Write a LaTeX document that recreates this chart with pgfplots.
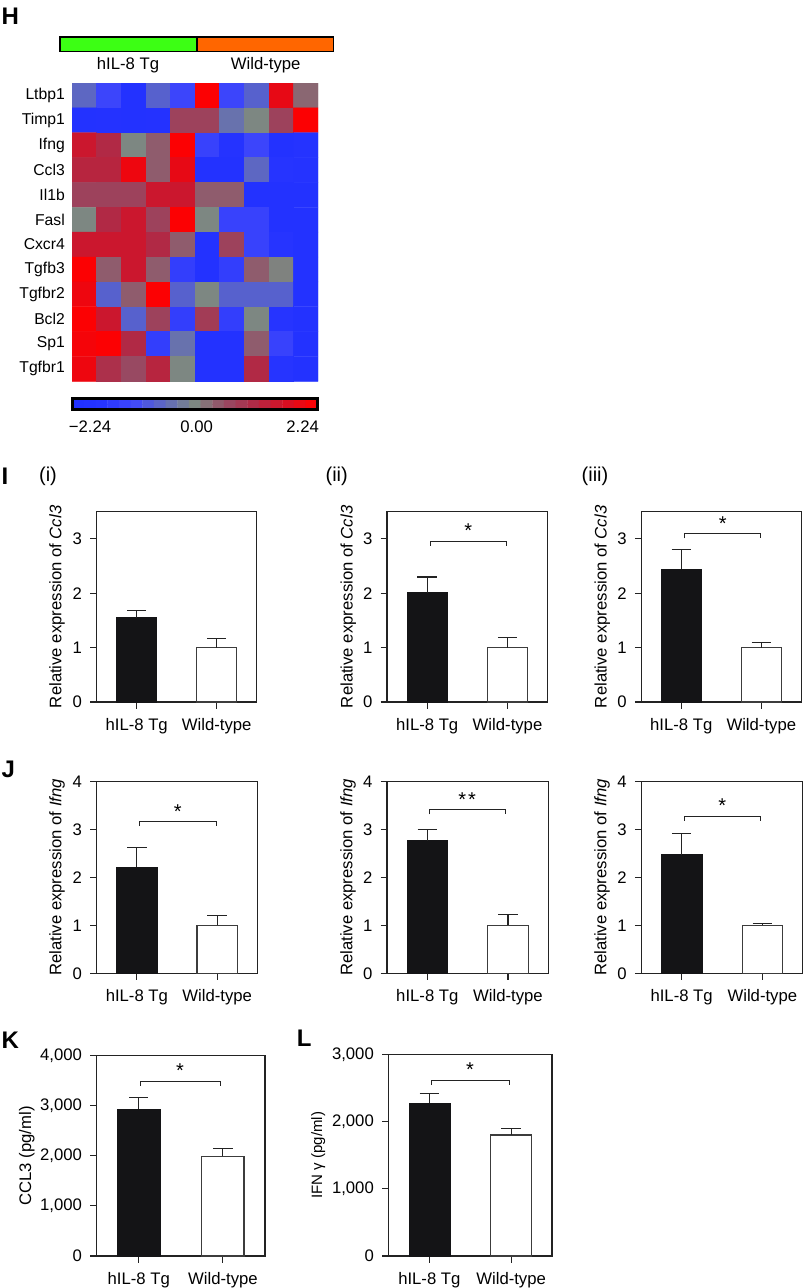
\documentclass[border=0pt]{standalone}
\usepackage{fontspec}
\usepackage{pgfplots}
\pgfplotsset{compat=1.18}
\setmainfont{Liberation Sans}
\definecolor{ink}{RGB}{35,35,35}
\definecolor{barblack}{RGB}{20,20,22}
\definecolor{barline}{RGB}{60,60,60}
\definecolor{grpgreen}{RGB}{60,255,20}
\definecolor{grporange}{RGB}{255,102,0}
\pgfplotsset{colormap={hm}{rgb255(0cm)=(32,48,255); rgb255(1cm)=(38,52,255); rgb255(2cm)=(64,72,250); rgb255(3cm)=(95,105,190); rgb255(4cm)=(125,135,130); rgb255(5cm)=(150,75,100); rgb255(6cm)=(178,40,68); rgb255(7cm)=(215,15,35); rgb255(8cm)=(255,0,0)}}
\newcommand\barpanel[9]{\def\pL{#1}\def\pR{#2}\def\pT{#3}\def\pB{#4}\def\pYmax{#5}\def\pTicks{#6}\def\pYlab{#7}\def\pLx{#8}\def\pBv{#9}\barpanelB}
\newcommand\barpanelB[3]{%
\pgfmathsetmacro\pw{\pR-\pL}\pgfmathsetmacro\ph{\pB-\pT}\pgfmathsetmacro\relx{(\pLx-\pL)/\pw}%
\begin{axis}[anchor=south west,at={(\pL pt,-\pB pt)},scale only axis,width=\pw pt,height=\ph pt,
 xmin=-0.5,xmax=1.5,ymin=0,ymax=\pYmax,xtick={0,1},xticklabels={hIL-8 Tg,Wild-type},ytick=\pTicks,
 xtick pos=bottom,ytick pos=left,tick align=outside,major tick length=6.5pt,
 axis line style={ink,line width=1.1pt},tick style={ink,line width=1.1pt},
 scaled y ticks=false,
 yticklabel style={/pgf/number format/assume math mode=true,/pgf/number format/1000 sep={,},inner sep=0pt,xshift=-8pt},
 xticklabel style={inner sep=0pt,yshift=-9.5pt,text height=12pt,text depth=3.5pt},
 every axis y label/.style={at={(axis description cs:\relx,0.5)},rotate=90,anchor=center},
 ylabel={\pYlab},
 axis on top=false]
\addplot[ybar,bar width=0.5,bar shift=0pt,fill=barblack,draw=barblack,line width=0.6pt,
 error bars/.cd,y dir=plus,y explicit,error bar style={ink,line width=1.1pt},error mark options={rotate=90,mark size=9.7pt,ink,line width=1.1pt}]
 coordinates {(0,\pBv) +- (0,#1)};
\addplot[ybar,bar width=0.5,bar shift=0pt,fill=white,draw=barline,line width=1.2pt,
 error bars/.cd,y dir=plus,y explicit,error bar style={ink,line width=1.1pt},error mark options={rotate=90,mark size=9.7pt,ink,line width=1.1pt}]
 coordinates {(1,#2) +- (0,#3)};
\end{axis}}
\newcommand\bracket[6]{%
 \draw[ink,line width=1pt] (#1pt,-#4pt) -- (#1pt,-#3pt) -- (#2pt,-#3pt) -- (#2pt,-#4pt);
 \node[inner sep=0pt,font=\fontsize{20}{22}\selectfont,yshift=-2.5pt] at (#5pt,-#6pt) {*};}
\newcommand\panelletter[3]{\node[anchor=west,inner sep=0pt,font=\fontsize{24}{26}\selectfont\bfseries] at (#1pt,-#2pt) {#3};}
\newcommand\sublabel[3]{\node[inner sep=0pt,font=\fontsize{20}{23}\selectfont] at (#1pt,-#2pt) {#3};}
\begin{document}
\fontsize{16.7}{19}\selectfont
\begin{tikzpicture}
\useasboundingbox (0pt,0pt) rectangle (805pt,-1288pt);
% group bar
\draw[black,line width=1.2pt,fill=grpgreen] (60pt,-37pt) rectangle (197pt,-51.5pt);
\draw[black,line width=1.2pt,fill=grporange] (197pt,-37pt) rectangle (333.5pt,-51.5pt);
\node[inner sep=0pt] at (128pt,-65pt) {hIL-8 Tg};
\node[inner sep=0pt] at (265.7pt,-65pt) {Wild-type};
% heat map
\begin{axis}[anchor=south west,at={(72pt,-381.3pt)},scale only axis,width=246pt,height=298.3pt,
 xmin=-0.5,xmax=9.5,ymin=-0.5,ymax=11.5,y dir=reverse,colormap name=hm,point meta min=-2.24,point meta max=2.24,
 xtick=\empty,ytick={0,...,11},yticklabels={Ltbp1,Timp1,Ifng,Ccl3,Il1b,Fasl,Cxcr4,Tgfb3,Tgfbr2,Bcl2,Sp1,Tgfbr1},
 major tick length=0pt,axis line style={draw=none},tick style={draw=none},
 yticklabel style={font=\fontsize{15.7}{18}\selectfont,inner sep=0pt,xshift=-7pt}]
\addplot[matrix plot*,mesh/cols=10,point meta=explicit] coordinates {
(0,0) [-0.6] (1,0) [-1.2] (2,0) [-2] (3,0) [-0.7] (4,0) [-1.2] (5,0) [2.2] (6,0) [-1.2] (7,0) [-0.7] (8,0) [1.9] (9,0) [0.3]
(0,1) [-2] (1,1) [-1.9] (2,1) [-2] (3,1) [-1.9] (4,1) [0.7] (5,1) [0.7] (6,1) [-0.4] (7,1) [0] (8,1) [0.7] (9,1) [2.2]
(0,2) [1.5] (1,2) [1.1] (2,2) [0] (3,2) [0.4] (4,2) [2.2] (5,2) [-1.3] (6,2) [-1.8] (7,2) [-1.2] (8,2) [-2] (9,2) [-1.8]
(0,3) [1.2] (1,3) [1.2] (2,3) [2] (3,3) [0.4] (4,3) [1.9] (5,3) [-2] (6,3) [-2] (7,3) [-0.6] (8,3) [-1.7] (9,3) [-1.8]
(0,4) [0.7] (1,4) [0.7] (2,4) [0.7] (3,4) [1.5] (4,4) [1.5] (5,4) [0.4] (6,4) [0.4] (7,4) [-2] (8,4) [-2] (9,4) [-2]
(0,5) [0] (1,5) [1.1] (2,5) [1.5] (3,5) [0.7] (4,5) [2.2] (5,5) [0] (6,5) [-1.3] (7,5) [-1.3] (8,5) [-2] (9,5) [-2]
(0,6) [1.5] (1,6) [1.5] (2,6) [1.5] (3,6) [1.1] (4,6) [0.4] (5,6) [-2] (6,6) [0.7] (7,6) [-1.3] (8,6) [-1.7] (9,6) [-2]
(0,7) [2.2] (1,7) [0.4] (2,7) [1.5] (3,7) [0.4] (4,7) [-1.4] (5,7) [-2] (6,7) [-1.4] (7,7) [0.4] (8,7) [0.05] (9,7) [-2]
(0,8) [2] (1,8) [-0.7] (2,8) [0.4] (3,8) [2.2] (4,8) [-0.7] (5,8) [0] (6,8) [-0.7] (7,8) [-0.7] (8,8) [-0.7] (9,8) [-2]
(0,9) [2.2] (1,9) [1.5] (2,9) [-0.7] (3,9) [0.7] (4,9) [-1.4] (5,9) [0.8] (6,9) [-1.4] (7,9) [0] (8,9) [-1.7] (9,9) [-2]
(0,10) [2.1] (1,10) [2.2] (2,10) [1.1] (3,10) [-1.4] (4,10) [-0.4] (5,10) [-2] (6,10) [-2] (7,10) [0.4] (8,10) [-1.3] (9,10) [-2]
(0,11) [2] (1,11) [1] (2,11) [0.6] (3,11) [1.2] (4,11) [0] (5,11) [-2] (6,11) [-2] (7,11) [1.1] (8,11) [-1.7] (9,11) [-2]
};
\end{axis}
% colour scale
\begin{axis}[anchor=south west,at={(72.5pt,-409.7pt)},scale only axis,width=245pt,height=11pt,
 xmin=-0.5,xmax=20.5,ymin=-0.5,ymax=1.5,colormap name=hm,point meta min=-2.24,point meta max=2.24,
 xtick=\empty,ytick=\empty,axis line style={black,line width=2.6pt},axis on top]
\addplot[matrix plot*,mesh/cols=21,point meta=explicit] coordinates {
(0,0) [-2.13] (1,0) [-1.92] (2,0) [-1.71] (3,0) [-1.49] (4,0) [-1.28] (5,0) [-1.07] (6,0) [-0.85] (7,0) [-0.64] (8,0) [-0.43] (9,0) [-0.21] (10,0) [0] (11,0) [0.21] (12,0) [0.43] (13,0) [0.64] (14,0) [0.85] (15,0) [1.07] (16,0) [1.28] (17,0) [1.49] (18,0) [1.71] (19,0) [1.92] (20,0) [2.13]
(0,1) [-2.13] (1,1) [-1.92] (2,1) [-1.71] (3,1) [-1.49] (4,1) [-1.28] (5,1) [-1.07] (6,1) [-0.85] (7,1) [-0.64] (8,1) [-0.43] (9,1) [-0.21] (10,1) [0] (11,1) [0.21] (12,1) [0.43] (13,1) [0.64] (14,1) [0.85] (15,1) [1.07] (16,1) [1.28] (17,1) [1.49] (18,1) [1.71] (19,1) [1.92] (20,1) [2.13]
};
\end{axis}
\node[inner sep=0pt] at (90pt,-426.7pt) {−2.24};
\node[inner sep=0pt] at (196.7pt,-426.7pt) {0.00};
\node[inner sep=0pt] at (302.7pt,-426.7pt) {2.24};
% panel letters
\panelletter{1.5}{16.7}{H}
\panelletter{1.5}{476.7}{I}
\panelletter{1.5}{769}{J}
\panelletter{1.5}{1040}{K}
\panelletter{296.7}{1038}{L}
\sublabel{48}{476.5}{(i)}
\sublabel{336.7}{476.5}{(ii)}
\sublabel{595}{476.5}{(iii)}
% I
\barpanel{96.7}{256.7}{511.7}{702}{3.5}{{0,1,2,3}}{Relative expression of \textit{Ccl3}}{57}{1.55}{0.13}{1.0}{0.17}
\barpanel{387}{547.7}{511.7}{702}{3.5}{{0,1,2,3}}{Relative expression of \textit{Ccl3}}{348.3}{2.01}{0.29}{1.0}{0.19}
\barpanel{641.3}{801.3}{511.7}{702}{3.5}{{0,1,2,3}}{Relative expression of \textit{Ccl3}}{602.3}{2.44}{0.36}{1.0}{0.09}
% J
\barpanel{96.7}{257.3}{781.7}{973.3}{4}{{0,1,2,3,4}}{Relative expression of \textit{Ifng}}{57}{2.21}{0.41}{1.0}{0.2}
\barpanel{387}{548.3}{781.7}{973.3}{4}{{0,1,2,3,4}}{Relative expression of \textit{Ifng}}{348}{2.77}{0.23}{1.0}{0.22}
\barpanel{641.3}{802.7}{781.7}{973.3}{4}{{0,1,2,3,4}}{Relative expression of \textit{Ifng}}{602}{2.48}{0.43}{1.0}{0.04}
% K L
\barpanel{96.7}{265}{1055.7}{1256}{4000}{{0,1000,2000,3000,4000}}{CCL3 (pg/ml)}{26.7}{2928}{240}{1990}{153}
\barpanel{388.5}{552}{1054.3}{1256}{3000}{{0,1000,2000,3000}}{\fontsize{15}{18}\selectfont IFN γ (pg/ml)}{318.3}{2276}{144}{1800}{94}
% brackets
\bracket{430.7}{506}{541}{545.7}{468.3}{528.3}
\bracket{684.7}{760.3}{533.7}{538.3}{722.7}{520.7}
\bracket{139.7}{216}{821.3}{826}{177.7}{808.7}
\bracket{429}{505}{809.7}{814.3}{462.3}{796.7}
\node[inner sep=0pt,font=\fontsize{20}{22}\selectfont,yshift=-2.5pt] at (472pt,-796.7pt) {*};
\bracket{684.3}{760.3}{816}{820.7}{722.3}{803.3}
\bracket{140.3}{220}{1081.3}{1086}{180}{1068}
\bracket{431.7}{509.3}{1080.3}{1085}{470}{1066.7}
\end{tikzpicture}
\end{document}
